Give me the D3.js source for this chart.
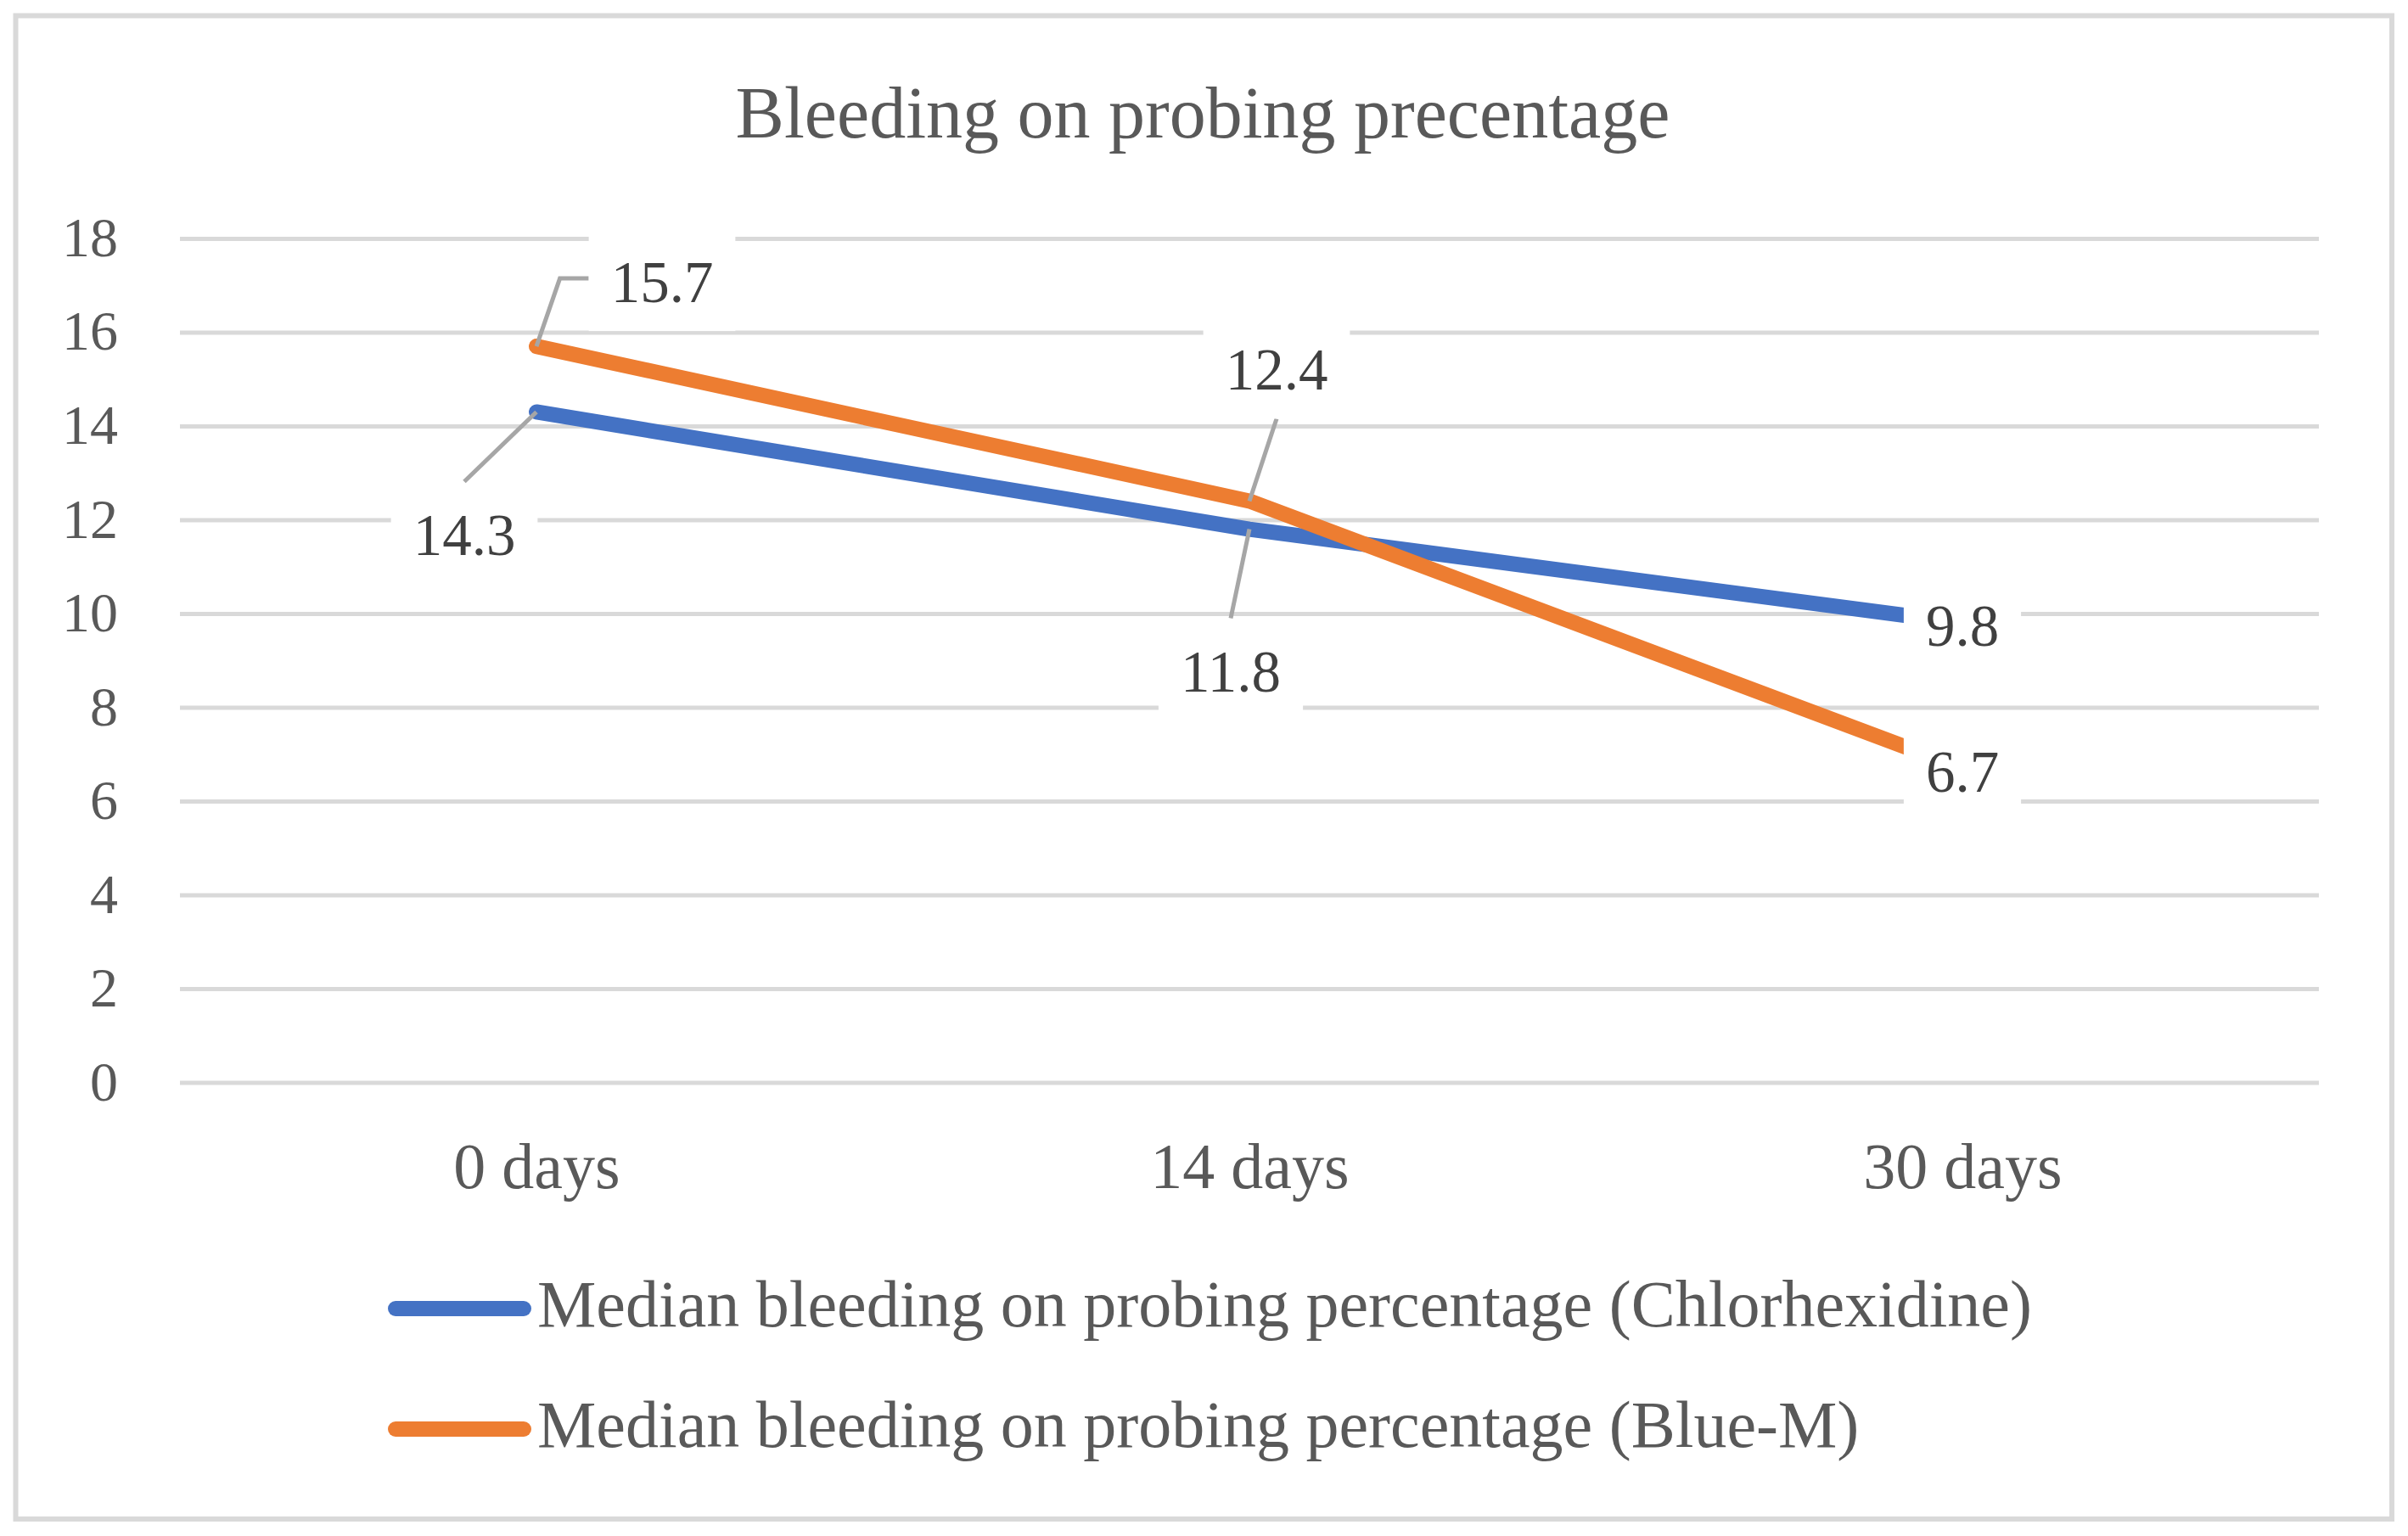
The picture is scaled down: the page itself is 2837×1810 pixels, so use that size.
<!DOCTYPE html>
<html>
<head>
<meta charset="utf-8">
<script src="https://cdn.jsdelivr.net/npm/d3@7"></script>
<style>
  html, body { margin: 0; padding: 0; background: #fff; }
  svg { display: block; }
  text { font-family: "Liberation Serif", "Times New Roman", serif; }
</style>
</head>
<body>
<svg id="chart" width="2837" height="1810"></svg>
<script>
// ---- data ----
const title = "Bleeding on probing precentage";
const categories = ["0 days", "14 days", "30 days"];
const seriesNames = [
  "Median bleeding on probing percentage (Chlorhexidine)",
  "Median bleeding on probing percentage (Blue-M)"
];
const chlorhexidine = [14.3, 11.8, 9.8];
const blueM = [15.7, 12.4, 6.7];
const yTicks = [0, 2, 4, 6, 8, 10, 12, 14, 16, 18];

// ---- layout / style (kept separate from data) ----
const W = 2837, H = 1810;
const plot = { left: 212, right: 2732, top: 281, bottom: 1275.6 };
const colors = ["#4472C4", "#ED7D31"];
// data label offsets from their point (px) and leader style
const labelLayout = [
  [{ dx: -85, dy: 145, leader: "top" }, { dx: -22, dy: 168, leader: "top" }, { dx: 0, dy: 3, leader: null }],
  [{ dx: 148, dy: -76, leader: "left" }, { dx: 32, dy: -155, leader: "bottom" }, { dx: 0, dy: 4, leader: null }]
];

const svg = d3.select("#chart");

// chart border
svg.append("rect")
  .attr("x", 18.5).attr("y", 18.5)
  .attr("width", 2799.5).attr("height", 1771.5)
  .attr("fill", "#fff").attr("stroke", "#d9d9d9").attr("stroke-width", 6);

// title
svg.append("text")
  .attr("x", 1417).attr("y", 162)
  .attr("text-anchor", "middle")
  .attr("font-size", 86).attr("fill", "#595959")
  .text(title);

const x = d3.scalePoint().domain(categories).range([plot.left, plot.right]).padding(0.5);
const y = d3.scaleLinear().domain([0, 18]).range([plot.bottom, plot.top]);

// y axis (gridlines + labels) via d3.axisLeft
const yAxis = d3.axisLeft(y).tickValues(yTicks).tickSize(-(plot.right - plot.left)).tickPadding(73).tickFormat(d3.format("d"));
const gy = svg.append("g").attr("transform", `translate(${plot.left},0)`).call(yAxis);
gy.select(".domain").remove();
gy.selectAll(".tick line").attr("stroke", "#d9d9d9").attr("stroke-width", 5);
gy.selectAll(".tick text")
  .attr("font-size", 66).attr("fill", "#595959")
  .attr("font-family", "Liberation Serif, Times New Roman, serif")
  .attr("dy", "0.31em");

// x axis labels via d3.axisBottom
const xAxis = d3.axisBottom(x).tickSize(0).tickPadding(0);
const gx = svg.append("g").attr("transform", `translate(0,1400)`).call(xAxis);
gx.select(".domain").remove();
gx.selectAll(".tick text")
  .attr("y", 0).attr("dy", 0)
  .attr("font-size", 76).attr("fill", "#595959")
  .attr("font-family", "Liberation Serif, Times New Roman, serif");

// lines
const series = [chlorhexidine, blueM];
const line = d3.line().x((d, i) => x(categories[i])).y(d => y(d));
series.forEach((vals, s) => {
  svg.append("path")
    .datum(vals)
    .attr("d", line)
    .attr("fill", "none")
    .attr("stroke", colors[s])
    .attr("stroke-width", 18)
    .attr("stroke-linejoin", "round")
    .attr("stroke-linecap", "round");
});

// data labels
const labelFs = 69, boxH = 116, padX = 26;
const labelG = svg.append("g");
series.forEach((vals, s) => {
  vals.forEach((v, i) => {
    const px = x(categories[i]), py = y(v);
    const lay = labelLayout[s][i];
    const cx = px + lay.dx, cy = py + lay.dy;
    const g = labelG.append("g");
    const rect = g.append("rect").attr("fill", "#fff");
    const t = g.append("text")
      .attr("x", cx).attr("y", cy + 0.34 * labelFs)
      .attr("text-anchor", "middle")
      .attr("font-size", labelFs).attr("fill", "#404040")
      .text(d3.format(".1f")(v));
    const tw = t.node().getComputedTextLength();
    const bw = tw + 2 * padX;
    rect.attr("x", cx - bw / 2).attr("y", cy - boxH / 2).attr("width", bw).attr("height", boxH);
    let pts = null;
    if (lay.leader === "top") pts = [[px, py], [cx, cy - boxH / 2 - 5]];
    else if (lay.leader === "bottom") pts = [[px, py], [cx, cy + boxH / 2]];
    else if (lay.leader === "left") pts = [[px, py], [cx - bw / 2 - 34, cy - 4], [cx - bw / 2, cy - 4]];
    if (pts) {
      svg.append("path")
        .attr("d", d3.line()(pts))
        .attr("fill", "none").attr("stroke", "#a6a6a6").attr("stroke-width", 5);
    }
  });
});
labelG.raise();

// legend
const legendY = [1542, 1684];
seriesNames.forEach((name, s) => {
  svg.append("line")
    .attr("x1", 466).attr("x2", 617)
    .attr("y1", legendY[s]).attr("y2", legendY[s])
    .attr("stroke", colors[s]).attr("stroke-width", 18).attr("stroke-linecap", "round");
  svg.append("text")
    .attr("x", 633).attr("y", legendY[s] + 21)
    .attr("font-size", 78).attr("fill", "#595959")
    .text(name);
});
</script>
</body>
</html>
